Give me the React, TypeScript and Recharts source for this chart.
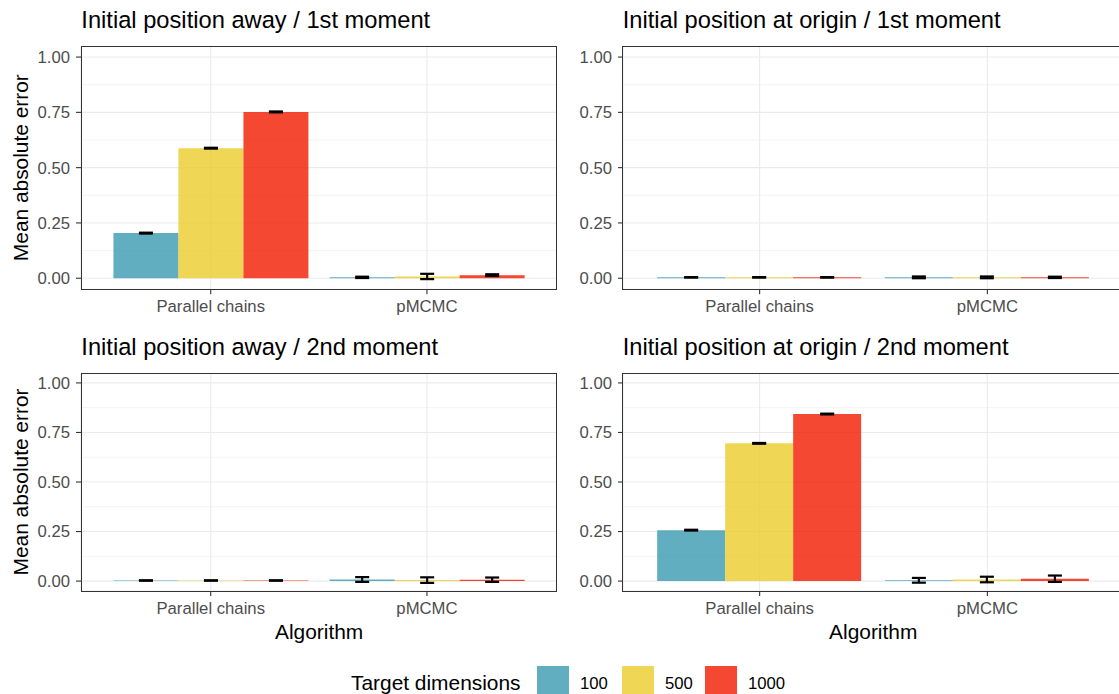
import React from "react";
import {
  BarChart,
  Bar,
  XAxis,
  YAxis,
  CartesianGrid,
  ErrorBar,
} from "recharts";

// categories and legend levels
const algorithms = ["Parallel chains", "pMCMC"];
const dims = ["100", "500", "1000"];
const dimColors = ["#3B9AB2", "#EBCC2A", "#F21A00"];
const yTicks = [0, 0.25, 0.5, 0.75, 1];
const yMinor = [0.125, 0.375, 0.625, 0.875];

// mean absolute error, rows = algorithm, cols = target dimension
const awayFirstMean = [
  [0.204, 0.588, 0.752],
  [0.004, 0.008, 0.014],
];
const awayFirstErr = [
  [0.002, 0.002, 0.002],
  [0.003, 0.012, 0.004],
];
const originFirstMean = [
  [0.004, 0.004, 0.004],
  [0.004, 0.004, 0.004],
];
const originFirstErr = [
  [0.001, 0.001, 0.001],
  [0.004, 0.004, 0.003],
];
const awaySecondMean = [
  [0.003, 0.003, 0.003],
  [0.008, 0.005, 0.007],
];
const awaySecondErr = [
  [0.001, 0.001, 0.001],
  [0.012, 0.014, 0.011],
];
const originSecondMean = [
  [0.257, 0.695, 0.843],
  [0.004, 0.008, 0.012],
];
const originSecondErr = [
  [0.002, 0.002, 0.002],
  [0.012, 0.014, 0.016],
];

const font = "'Liberation Sans', Arial, Helvetica, sans-serif";
const YW = 70;

function rows(mean: number[][], err: number[][]) {
  return algorithms.map((name, i) => {
    const r: any = { name };
    dims.forEach((d, j) => {
      r["m" + d] = mean[i][j];
      r["e" + d] = err[i][j];
    });
    return r;
  });
}

function Panel({ data, left, top, width, height }: any) {
  const pad = (0.1 * width) / 2.2;
  return (
    <>
      <div style={{ position: "absolute", left: left - YW, top }}>
        <BarChart
          width={YW + width}
          height={height + 34}
          data={data}
          margin={{ top: 0, right: 0, bottom: 0, left: 0 }}
          barCategoryGap="5%"
          barGap={0}
        >
          <CartesianGrid
            vertical={false}
            horizontalValues={yMinor}
            stroke="#EBEBEB"
            strokeWidth={0.6}
          />
          <CartesianGrid stroke="#EBEBEB" strokeWidth={1.1} />
          <XAxis
            dataKey="name"
            type="category"
            interval={0}
            padding={{ left: pad, right: pad }}
            axisLine={false}
            tickSize={5}
            tickMargin={6}
            tickLine={{ stroke: "#333333", strokeWidth: 1.1 }}
            tick={{ fill: "#4D4D4D", fontSize: 16.7 }}
            height={34}
          />
          <YAxis
            type="number"
            domain={[-0.05, 1.05]}
            ticks={yTicks}
            interval={0}
            width={YW}
            axisLine={false}
            tickSize={5}
            tickMargin={6}
            tickLine={{ stroke: "#333333", strokeWidth: 1.1 }}
            tick={{ fill: "#4D4D4D", fontSize: 16.7 }}
            tickFormatter={(v: number) => v.toFixed(2)}
          />
          {dims.map((d, j) => (
            <Bar
              key={d}
              dataKey={"m" + d}
              fill={dimColors[j]}
              fillOpacity={0.8}
              isAnimationActive={false}
            >
              <ErrorBar
                dataKey={"e" + d}
                direction="y"
                width={7}
                stroke="#000000"
                strokeWidth={2.2}
              />
            </Bar>
          ))}
        </BarChart>
      </div>
      <div
        style={{
          position: "absolute",
          left: left - 0.5,
          top: top - 0.5,
          width: width + 1,
          height: height + 1,
          border: "1.1px solid #333333",
          boxSizing: "border-box",
          pointerEvents: "none",
        }}
      />
    </>
  );
}

export default function App() {
  const L1 = 81.3;
  const W1 = 475.7;
  const L2 = 622.7;
  const W2 = 501;
  const T1 = 46;
  const H1 = 243.3;
  const T2 = 373;
  const H2 = 218;
  return (
    <div
      style={{
        position: "fixed",
        left: 0,
        top: 0,
        width: 1119,
        height: 694,
        overflow: "hidden",
        background: "#ffffff",
        fontFamily: font,
      }}
    >
      <Panel data={rows(awayFirstMean, awayFirstErr)} left={L1} top={T1} width={W1} height={H1} />
      <Panel data={rows(originFirstMean, originFirstErr)} left={L2} top={T1} width={W2} height={H1} />
      <Panel data={rows(awaySecondMean, awaySecondErr)} left={L1} top={T2} width={W1} height={H2} />
      <Panel data={rows(originSecondMean, originSecondErr)} left={L2} top={T2} width={W2} height={H2} />
      <svg
        width={1119}
        height={694}
        style={{ position: "absolute", left: 0, top: 0, pointerEvents: "none" }}
        fontFamily={font}
      >
        <text x={L1} y={28} fontSize={23.7} fill="#000">Initial position away / 1st moment</text>
        <text x={L2} y={28} fontSize={23.7} fill="#000">Initial position at origin / 1st moment</text>
        <text x={L1} y={355} fontSize={23.7} fill="#000">Initial position away / 2nd moment</text>
        <text x={L2} y={355} fontSize={23.7} fill="#000">Initial position at origin / 2nd moment</text>
        <text transform={`translate(28,${T1 + H1 / 2}) rotate(-90)`} textAnchor="middle" fontSize={20.9} fill="#000">
          Mean absolute error
        </text>
        <text transform={`translate(28,${T2 + H2 / 2}) rotate(-90)`} textAnchor="middle" fontSize={20.9} fill="#000">
          Mean absolute error
        </text>
        <text x={L1 + W1 / 2} y={639} textAnchor="middle" fontSize={20.9} fill="#000">Algorithm</text>
        <text x={L2 + W2 / 2} y={639} textAnchor="middle" fontSize={20.9} fill="#000">Algorithm</text>
        <text x={351} y={690} fontSize={20.9} fill="#000">Target dimensions</text>
        {dims.map((d, j) => {
          const kx = [537, 622, 705][j];
          return (
            <g key={d}>
              <rect x={kx} y={666} width={32} height={34} fill={dimColors[j]} fillOpacity={0.8} />
              <text x={kx + 43} y={689} fontSize={16.7} fill="#000">{d}</text>
            </g>
          );
        })}
      </svg>
    </div>
  );
}
